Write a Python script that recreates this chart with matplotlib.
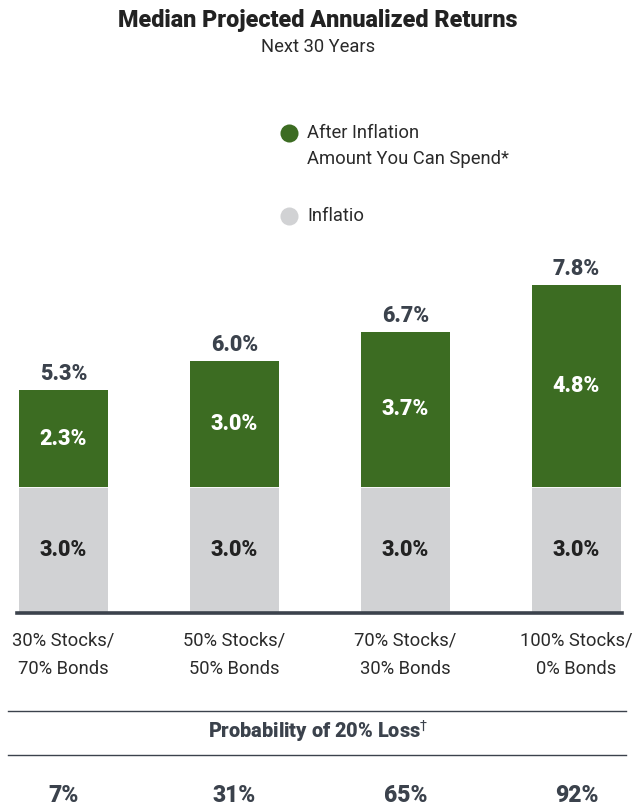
import matplotlib
matplotlib.use("Agg")
import matplotlib.pyplot as plt
import matplotlib.transforms as mtransforms
from matplotlib.lines import Line2D

# ---- data ----
categories = ["30% Stocks/\n70% Bonds", "50% Stocks/\n50% Bonds",
              "70% Stocks/\n30% Bonds", "100% Stocks/\n0% Bonds"]
inflation = [3.0, 3.0, 3.0, 3.0]
after_inflation = [2.3, 3.0, 3.7, 4.8]
totals = [5.3, 6.0, 6.7, 7.8]
loss_prob = ["7%", "31%", "65%", "92%"]
legend_labels = ["After Inflation", "Amount You Can Spend*", "Inflatio"]

GREEN = "#3c6c22"
GRAY = "#d1d2d4"
DARK = "#3b424c"
TXT = "#222222"
LT = "#2a2a2a"

W, H = 636, 806
fig = plt.figure(figsize=(W / 100, H / 100), dpi=100)
plt.rcParams['font.family'] = ['Roboto', 'DejaVu Sans']

def fy(y):
    return 1 - y / H

def fx(x):
    return x / W

base_px, top_px = 613, 260
ax = fig.add_axes([0, fy(base_px), 1, (base_px - top_px) / H])
spacing = 171.0
c0 = 63.5
ax.set_xlim(-c0 / spacing, (W - c0) / spacing)
ax.set_ylim(0, (base_px - top_px) / 42.0)
for s in ax.spines.values():
    s.set_visible(False)
ax.set_yticks([])

x = list(range(len(categories)))
bw = 89 / spacing
ax.bar(x, inflation, width=bw, color=GRAY, edgecolor="none")
ax.bar(x, after_inflation, bottom=inflation, width=bw, color=GREEN,
       edgecolor="white", linewidth=1.2)
ax.bar(x, after_inflation, bottom=inflation, width=bw, color=GREEN, edgecolor="none")

VFS = 15.5
for i in x:
    ax.text(i, inflation[i] / 2, f"{inflation[i]:.1f}%", ha="center", va="center",
            fontsize=VFS, fontweight="black", color=TXT)
    ax.text(i, inflation[i] + after_inflation[i] / 2, f"{after_inflation[i]:.1f}%",
            ha="center", va="center", fontsize=VFS, fontweight="black", color="white")
    ax.text(i, totals[i] + 5 / 42.0, f"{totals[i]:.1f}%", ha="center", va="bottom",
            fontsize=VFS, fontweight="black", color=DARK)

ax.set_xticks(x, categories)
ax.tick_params(axis="x", length=0, pad=13, labelsize=13.2, labelcolor=LT)
for lab in ax.get_xticklabels():
    lab.set_linespacing(1.75)
    lab.set_fontweight("normal")

ax.axhline(0, xmin=fx(17), xmax=fx(622), color=DARK, linewidth=2.6, clip_on=False)

fig.text(0.5, fy(21), "Median Projected Annualized Returns", ha="center", va="center",
         fontsize=16.8, fontweight="black", color=TXT)
fig.text(0.5, fy(47), "Next 30 Years", ha="center", va="center",
         fontsize=13.2, fontweight="normal", color=LT)

for (cy, col) in [(133, GREEN), (216, GRAY)]:
    fig.add_artist(Line2D([fx(289)], [fy(cy)], marker="o", markersize=13,
                          color=col, markeredgecolor="none", transform=fig.transFigure))
fig.text(fx(307), fy(133), legend_labels[0], ha="left", va="center", fontsize=13.2,
         fontweight="normal", color=LT)
fig.text(fx(307), fy(159), legend_labels[1], ha="left", va="center", fontsize=13.2,
         fontweight="normal", color=LT)
fig.text(fx(307), fy(216), legend_labels[2], ha="left", va="center", fontsize=13.2,
         fontweight="normal", color=LT)

for yy in (711, 755):
    fig.add_artist(Line2D([fx(8), fx(626)], [fy(yy), fy(yy)], color=DARK,
                          linewidth=1.0, transform=fig.transFigure))
fig.text(0.5, fy(731), "Probability of 20% Loss$^{\\dagger}$", ha="center", va="center",
         fontsize=14.3, fontweight="black", color=DARK)

trans = mtransforms.blended_transform_factory(ax.transData, fig.transFigure)
for i in x:
    ax.text(i, fy(795), loss_prob[i], transform=trans, ha="center", va="center",
            fontsize=16.5, fontweight="black", color=DARK)

fig.savefig("out.png", dpi=100, facecolor="white")
